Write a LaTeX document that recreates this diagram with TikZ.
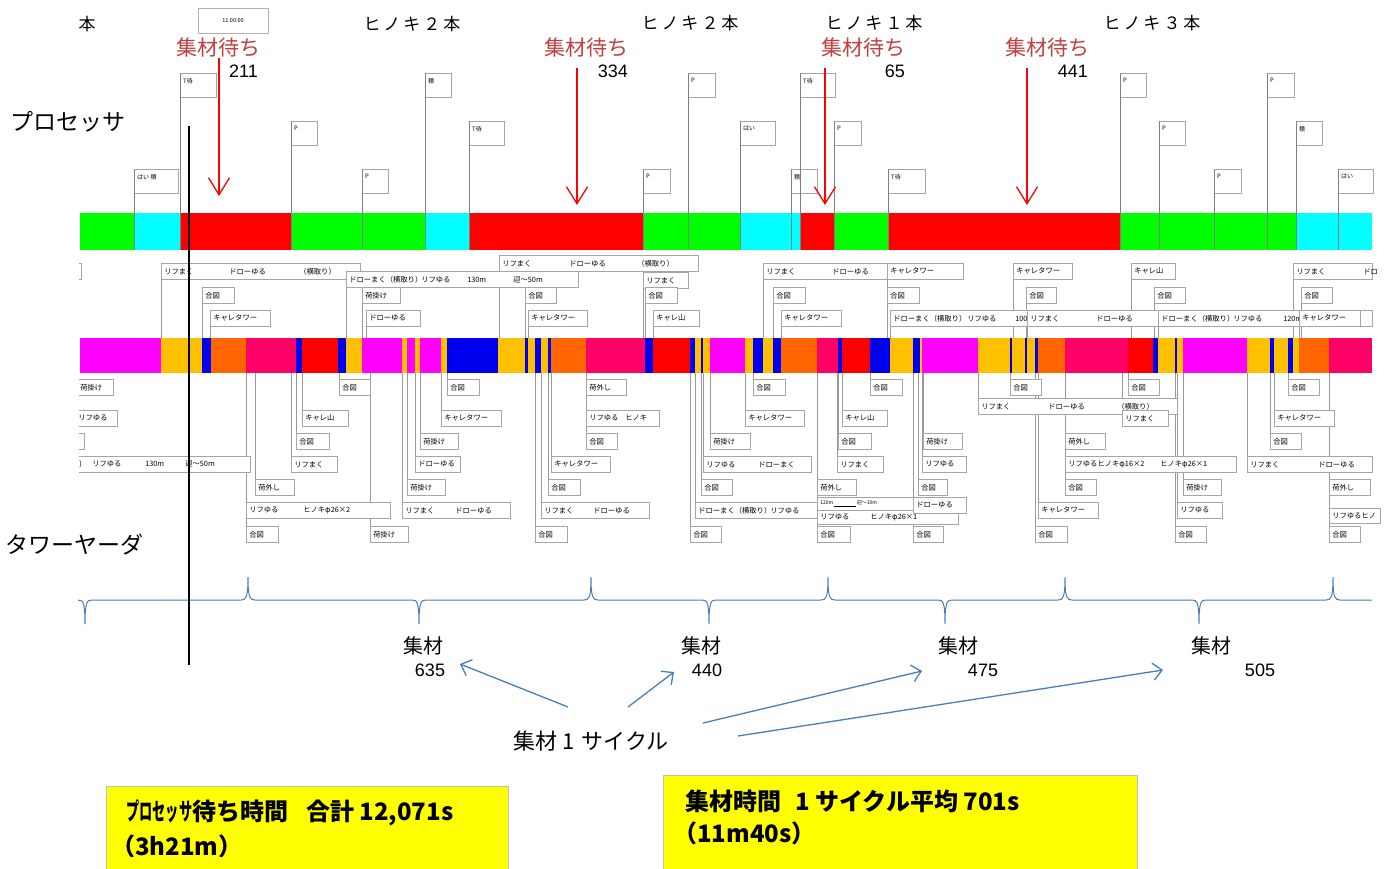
\documentclass[tikz,border=0pt]{standalone}
\usepackage{fontspec}
\usepackage{graphicx}
\setmainfont{Noto Sans CJK JP}
\newfontfamily\libsans{Liberation Sans}
\usetikzlibrary{arrows.meta}
\pgfdeclarelayer{back}
\pgfdeclarelayer{bg}
\pgfsetlayers{back,bg,main}
\definecolor{pgreen}{RGB}{0,255,0}
\definecolor{pcyan}{RGB}{0,255,255}
\definecolor{pred}{RGB}{255,0,0}
\definecolor{tmag}{RGB}{255,0,255}
\definecolor{tyel}{RGB}{255,192,0}
\definecolor{tblu}{RGB}{0,0,240}
\definecolor{tora}{RGB}{255,102,0}
\definecolor{tcri}{RGB}{255,0,102}
\definecolor{wred}{RGB}{192,64,64}
\definecolor{sblue}{RGB}{74,126,187}
\definecolor{boxyel}{RGB}{255,255,0}
\newcommand\pc[2]{\makebox[#1pt][l]{#2}}
\tikzset{
  lab/.style={draw=black!35, fill=white, line width=0.6pt, inner xsep=0pt, inner ysep=0pt,
    anchor=north west, minimum height=16pt, align=left, font=\fontsize{7.3}{8}\selectfont},
  tick/.style={draw=black!40, line width=0.5pt},
  flagbox/.style={draw=black!35, line width=0.6pt, anchor=north west, minimum height=24pt, inner sep=0pt},
  flagtxt/.style={anchor=north west, inner sep=0pt, font=\fontsize{6}{7}\selectfont, xshift=3pt, yshift=-5pt},
  redlab/.style={text=wred, inner sep=0pt, font=\fontsize{21}{22}\selectfont},
  num/.style={inner sep=0pt, font=\libsans\fontsize{18}{19}\selectfont},
  redarrow/.style={draw=pred, line width=1.3pt, -{Straight Barb[length=17pt,width=21pt]}},
  bluearrow/.style={draw=sblue, line width=1.3pt, -{Straight Barb[length=9pt,width=17pt]}},
  brace/.style={draw=sblue, line width=1pt},
  title/.style={inner sep=0pt, font=\fontsize{17}{18}\selectfont},
  side/.style={inner sep=0pt, anchor=west, font=\fontsize{23}{24}\selectfont},
  ybox/.style={draw=black!25, fill=boxyel, line width=1pt, anchor=north west, inner sep=0pt},
  ytxt/.style={inner sep=0pt, anchor=west, font=\bfseries\fontsize{24}{25}\selectfont},
}
% label above the tower-yarder bar
\newcommand\labup[5]{%
  \coordinate (#1b) at (#2,338);
  \node[lab, text width=#4pt] (#1) at (#2,#3) {\noindent\hspace*{3pt}#5};
  \begin{pgfonlayer}{bg}\draw[tick] (#1.south west) -- (#1b);\end{pgfonlayer}}
% label below the tower-yarder bar
\newcommand\labdn[6][16]{%
  \coordinate (#2b) at (#3,373);
  \node[lab, text width=#5pt, minimum height=#1pt] (#2) at (#3,#4) {\noindent\hspace*{3pt}#6};
  \begin{pgfonlayer}{bg}\draw[tick] (#2.north west) -- (#2b);\end{pgfonlayer}}
% label cut at the left edge (no visible connector)
\newcommand\labcut[5]{%
  \node[lab, text width=#4pt] (#1) at (#2,#3) {\noindent#5};}
% processor flag
\newcommand\flag[5]{%
  \node[flagbox, minimum width=#4pt] (#1) at (#2,#3) {};
  \node[flagtxt] (#1t) at (#1.north west) {#5};
  \coordinate (#1b) at (#2,250);
  \draw[tick, draw=black!50] (#1.north west) -- (#1b);}
\begin{document}
\begin{tikzpicture}[x=1pt,y=-1pt]
\useasboundingbox (0,0) rectangle (1384,868);
\begin{pgfonlayer}{back}\fill[white] (0,0) rectangle (1384,868);\end{pgfonlayer}

% ---------- top titles ----------
\node[title] (h0) at (87,24) {本};
\node[title] (h1) at (412,24) {ヒ\hspace{3pt}ノ\hspace{3pt}キ\hspace{3pt}２\hspace{3pt}本};
\node[title] (h2) at (690,23) {ヒ\hspace{3pt}ノ\hspace{3pt}キ\hspace{3pt}２\hspace{3pt}本};
\node[title] (h3) at (874,23) {ヒ\hspace{3pt}ノ\hspace{3pt}キ\hspace{3pt}１\hspace{3pt}本};
\node[title] (h4) at (1152,23) {ヒ\hspace{3pt}ノ\hspace{3pt}キ\hspace{3pt}３\hspace{3pt}本};
\node[draw=black!30, line width=0.6pt, minimum width=70pt, minimum height=25pt, inner sep=0pt,
      font=\fontsize{5.5}{6}\selectfont] (clock) at (233,20.5) {11:00:00};

\node[side] (proc) at (10,122) {プロセッサ};
\node[side] (tower) at (5,545) {タワーヤーダ};

% ---------- processor bar ----------
\foreach \a/\b/\c in {80/134/pgreen,134/180/pcyan,180/291/pred,291/425/pgreen,425/469/pcyan,
  469/643/pred,643/740/pgreen,740/800/pcyan,800/834/pred,834/888/pgreen,888/1120/pred,
  1120/1296/pgreen,1296/1372/pcyan}
  \fill[\c] (\a,213) rectangle (\b,250);

\flag{f1}{134}{169}{44}{はい~積}
\flag{f2}{180}{73}{36}{T待}
\flag{f3}{291}{121}{26}{P}
\flag{f4}{362}{169}{26}{P}
\flag{f5}{425}{73}{26}{積}
\flag{f6}{469}{121}{35}{T待}
\flag{f7}{643}{169}{27}{P}
\flag{f8}{688}{73}{27}{P}
\flag{f9}{740}{121}{35}{はい}
\flag{f10}{791}{169}{26}{積}
\flag{f11}{800}{73}{35}{T待}
\flag{f12}{834}{121}{27}{P}
\flag{f13}{888}{169}{37}{T待}
\flag{f14}{1120}{73}{26}{P}
\flag{f15}{1159}{121}{26}{P}
\flag{f16}{1214}{169}{27}{P}
\flag{f17}{1267}{73}{27}{P}
\flag{f18}{1296}{121}{26}{積}
\flag{f19}{1338}{169}{35}{はい}

% ---------- waiting labels ----------
\node[redlab] (w1) at (218,47) {集材待ち};
\node[redlab] (w2) at (586,47) {集材待ち};
\node[redlab] (w3) at (863,47) {集材待ち};
\node[redlab] (w4) at (1047,47) {集材待ち};
\node[num, anchor=east] (v1) at (258,71) {211};
\node[num, anchor=east] (v2) at (628,71) {334};
\node[num, anchor=east] (v3) at (905,71) {65};
\node[num, anchor=east] (v4) at (1088,71) {441};
\coordinate (r1s) at (219,58);  \coordinate (r1e) at (219,196);
\coordinate (r2s) at (577,68);  \coordinate (r2e) at (577,205);
\coordinate (r3s) at (825,68);  \coordinate (r3e) at (825,205);
\coordinate (r4s) at (1027,68); \coordinate (r4e) at (1027,205);
\draw[redarrow] (r1s) -- (r1e);
\draw[redarrow] (r2s) -- (r2e);
\draw[redarrow] (r3s) -- (r3e);
\draw[redarrow] (r4s) -- (r4e);

% ---------- tower-yarder bar ----------
\foreach \a/\b/\c in {80/161/tmag,161/202/tyel,202/211/tblu,211/246/tora,246/296/tcri,296/302/tblu,
  302/338/pred,338/346/tblu,346/362/tyel,362/402/tmag,402/407/tyel,407/415/tmag,415/420/tyel,
  420/441/tmag,441/447/tyel,447/498/tblu,498/525/tyel,525/528/tblu,528/535/tyel,535/541/tblu,
  541/548/tyel,548/551/tblu,551/586/tora,586/645/tcri,645/653/tblu,653/690/pred,690/695/tblu,
  695/701/tyel,701/703/tblu,703/710/tyel,710/745/tmag,745/753/tyel,753/763/tblu,763/773/tyel,
  773/781/tblu,781/817/tora,817/838/tcri,838/842/tblu,842/870/pred,870/890/tblu,890/913/tyel,
  913/920/tblu,920/922/tyel,922/978/tmag,978/1010/tyel,1010/1012/tblu,1012/1025/tyel,
  1025/1027/tblu,1027/1035/tyel,1035/1038/tblu,1038/1065/tora,1065/1128/tcri,1128/1153/pred,
  1153/1158/tblu,1158/1175/tyel,1175/1177/tblu,1177/1183/tyel,1183/1247/tmag,1247/1270/tyel,
  1270/1274/tblu,1274/1288/tyel,1288/1293/tblu,1293/1299/tyel,1299/1329/tora,1329/1372/tcri}
  \fill[\c] (\a,338) rectangle (\b,373);

\begin{scope}
\clip (79,250) rectangle (1384,560);
% above the bar
\labcut{a0}{40}{263}{41}{}
\labup{a1}{161}{263}{199}{\pc{65}{リフまく}\pc{70}{ドローゆる}（横取り）}
\labup{a2}{346}{271}{232}{\pc{72}{ドローまく（横取り）}\pc{46}{リフゆる}\pc{46}{130m}迎～50m}
\labup{a3}{499}{255}{199}{\pc{67}{リフまく}\pc{68}{ドローゆる}（横取り）}
\labup{a4}{643}{272}{45}{リフまく}
\labup{a5}{763}{263}{124}{\pc{66}{リフまく}ドローゆる}
\labup{a6}{887}{263}{76}{キャレタワー}
\labup{a7}{1013}{263}{59}{キャレタワー}
\labup{a8}{1131}{263}{44}{キャレ山}
\labup{a9}{1293}{263}{79}{\pc{67}{リフまく}ドロ}
\labup{b1}{202}{287}{32}{合図}
\labup{b2}{362}{287}{38}{荷掛け}
\labup{b3}{525}{287}{31}{合図}
\labup{b4}{645}{287}{32}{合図}
\labup{b5}{773}{287}{32}{合図}
\labup{b6}{887}{287}{32}{合図}
\labup{b7}{1026}{287}{30}{合図}
\labup{b8}{1154}{287}{31}{合図}
\labup{b9}{1301}{287}{31}{合図}
\labup{c1}{210}{310}{60}{キャレタワー}
\labup{c2}{366}{310}{54}{ドローゆる}
\labup{c3}{528}{310}{59}{キャレタワー}
\labup{c4}{653}{310}{46}{キャレ山}
\labup{c5}{781}{310}{60}{キャレタワー}
\labup{c6}{890}{310}{145}{\pc{74}{ドローまく（横取り）}\pc{48}{リフゆる}100}
\labup{c7}{1027}{310}{131}{\pc{66}{リフまく}ドローゆる}
\labup{c8}{1158}{310}{214}{\pc{72}{ドローまく（横取り）}\pc{50}{リフゆる}120m}
\labup{c9}{1299}{310}{61}{キャレタワー}
% below the bar
\labcut{d1}{72}{379}{41}{\hspace*{8pt}荷掛け}
\labdn{d2}{339}{379}{31}{合図}
\labdn{d3}{447}{379}{32}{合図}
\labdn{d4}{586}{379}{40}{荷外し}
\labdn{d5}{753}{379}{32}{合図}
\labdn{d6}{870}{379}{32}{合図}
\labdn{d7}{1010}{379}{31}{合図}
\labdn{d8}{1128}{379}{31}{合図}
\labdn{d9}{1288}{379}{31}{合図}
\labdn{e0}{978}{398}{199}{\pc{67}{リフまく}\pc{69}{ドローゆる}（横取り）}
\labcut{e1}{72}{410}{45}{\hspace*{6pt}リフゆる}
\labdn{e2}{302}{410}{46}{キャレ山}
\labdn{e3}{441}{410}{60}{キャレタワー}
\labdn{e4}{586}{410}{73}{\pc{36}{リフゆる}ヒノキ}
\labdn{e5}{745}{410}{59}{キャレタワー}
\labdn{e6}{842}{410}{45}{キャレ山}
\labdn{e7}{1122}{410}{46}{リフまく}
\labdn{e8}{1274}{410}{60}{キャレタワー}
\labcut{f1}{40}{433}{44}{}
\labdn{g2x}{296}{433}{33}{合図}
\labdn{f3}{420}{433}{38}{荷掛け}
\labdn{f4}{586}{433}{31}{合図}
\labdn{f5}{710}{433}{40}{荷掛け}
\labdn{f6}{838}{433}{33}{合図}
\labdn{f7}{923}{433}{39}{荷掛け}
\labdn{f8}{1065}{433}{40}{荷外し}
\labdn{f9}{1270}{433}{31}{合図}
\labcut{g1}{72}{456}{178}{\hspace*{7pt}\pc{13}{)}\pc{53}{リフゆる}\pc{40}{130m}迎～50m}
\labdn{g2}{291}{456}{46}{リフまく}
\labdn{g3}{415}{456}{45}{ドローゆる}
\labdn{g4}{551}{456}{59}{キャレタワー}
\labdn{g5}{703}{456}{108}{\pc{52}{リフゆる}ドローまく}
\labdn{g6}{837}{456}{46}{リフまく}
\labdn{g7}{922}{456}{44}{リフゆる}
\labdn{g8}{1065}{456}{171}{\pc{92}{リフゆるヒノキφ16×2}ヒノキφ26×1}
\labdn{g9}{1247}{456}{125}{\pc{68}{リフまく}ドローゆる}
\labdn{h1}{255}{479}{39}{荷外し}
\labdn{h2}{407}{479}{38}{荷掛け}
\labdn{h3}{548}{479}{32}{合図}
\labdn{h4}{701}{479}{31}{合図}
\labdn{h5}{817}{479}{39}{荷外し}
\labdn{h6}{918}{479}{29}{合図}
\labdn{h7}{1065}{479}{31}{合図}
\labdn{h8}{1183}{479}{38}{荷掛け}
\labdn{h9}{1329}{479}{41}{荷外し}
\labdn{i1}{246}{502}{144}{\pc{54}{リフゆる}ヒノキφ26×2}
\labdn{i2}{402}{502}{108}{\pc{50}{リフまく}ドローゆる}
\labdn{i3}{541}{502}{108}{\pc{49}{リフまく}ドローゆる}
\labdn{i4}{695}{502}{122}{\pc{72}{ドローまく（横取り）}リフゆる}
\labdn[13]{i5}{817}{497}{96}{\fontsize{5}{6}\selectfont 120m\,\underline{\hspace{22pt}}\,迎～10m}
\labdn[14]{i6}{817}{510}{141}{\pc{50}{リフゆる}ヒノキφ26×1}
\labdn{i7}{913}{497}{53}{ドローゆる}
\labdn{i8}{1038}{502}{60}{キャレタワー}
\labdn{i9}{1177}{502}{45}{リフゆる}
\labdn[15]{i10}{1329}{508}{51}{リフゆるヒノ}
\labdn{j1}{246}{526}{32}{合図}
\labdn{j2}{370}{526}{38}{荷掛け}
\labdn{j3}{535}{526}{32}{合図}
\labdn{j4}{690}{526}{31}{合図}
\labdn{j5}{817}{526}{33}{合図}
\labdn{j6}{913}{526}{30}{合図}
\labdn{j7}{1035}{526}{32}{合図}
\labdn{j8}{1175}{526}{31}{合図}
\labdn{j9}{1329}{526}{31}{合図}
\end{scope}

% ---------- cycle brace ----------
\draw[brace] (78,600) .. controls (83,600) and (85,602) .. (85,624) .. controls (85,602) and (87,600) .. (92,600)
  -- (241,600) .. controls (246,600) and (248,598) .. (248,577) .. controls (248,598) and (250,600) .. (255,600)
  -- (412,600) .. controls (417,600) and (419,602) .. (419,624) .. controls (419,602) and (421,600) .. (426,600)
  -- (584,600) .. controls (589,600) and (591,598) .. (591,577) .. controls (591,598) and (593,600) .. (598,600)
  -- (702,600) .. controls (707,600) and (709,602) .. (709,624) .. controls (709,602) and (711,600) .. (716,600)
  -- (821,600) .. controls (826,600) and (828,598) .. (828,577) .. controls (828,598) and (830,600) .. (835,600)
  -- (938,600) .. controls (943,600) and (945,602) .. (945,624) .. controls (945,602) and (947,600) .. (952,600)
  -- (1058,600) .. controls (1063,600) and (1065,598) .. (1065,577) .. controls (1065,598) and (1067,600) .. (1072,600)
  -- (1192,600) .. controls (1197,600) and (1199,602) .. (1199,624) .. controls (1199,602) and (1201,600) .. (1206,600)
  -- (1326,600) .. controls (1331,600) and (1333,598) .. (1333,577) .. controls (1333,598) and (1335,600) .. (1340,600)
  -- (1372,600);

\node[inner sep=0pt, font=\fontsize{20}{21}\selectfont] (s1) at (423,646) {集材};
\node[inner sep=0pt, font=\fontsize{20}{21}\selectfont] (s2) at (701,646) {集材};
\node[inner sep=0pt, font=\fontsize{20}{21}\selectfont] (s3) at (958,646) {集材};
\node[inner sep=0pt, font=\fontsize{20}{21}\selectfont] (s4) at (1211,646) {集材};
\node[num] (n1) at (430,670) {635};
\node[num] (n2) at (707,670) {440};
\node[num] (n3) at (983,670) {475};
\node[num] (n4) at (1260,670) {505};
\node[inner sep=0pt, font=\fontsize{22}{23}\selectfont] (cyc) at (591,741) {集材\hspace{5pt}1\hspace{7pt}サイクル};
\coordinate (c1s) at (568,707); \coordinate (c1e) at (460,664);
\coordinate (c2s) at (628,707); \coordinate (c2e) at (674,672);
\coordinate (c3s) at (703,723); \coordinate (c3e) at (922,671);
\coordinate (c4s) at (738,736); \coordinate (c4e) at (1163,670);
\draw[bluearrow] (c1s) -- (c1e);
\draw[bluearrow] (c2s) -- (c2e);
\draw[bluearrow] (c3s) -- (c3e);
\draw[bluearrow] (c4s) -- (c4e);

% ---------- time cursor ----------
\coordinate (cur1) at (189,126); \coordinate (cur2) at (189,665);
\draw[black, line width=1.4pt] (cur1) -- (cur2);

% ---------- summary boxes ----------
\node[ybox, minimum width=402pt, minimum height=90pt] (y1) at (106,786) {};
\node[ytxt] (y1a) at (126,813) {\scalebox{0.55}[1]{プロセッサ}待ち時間\hspace{18pt}合計 12,071s};
\node[ytxt] (y1b) at (111,846) {（3h21m）};
\node[ybox, minimum width=474pt, minimum height=100pt] (y2) at (663,775) {};
\node[ytxt] (y2a) at (685,801) {集材時間\hspace{14pt}1 サイクル平均 701s};
\node[ytxt] (y2b) at (673,833) {（11m40s）};
\end{tikzpicture}
\end{document}
